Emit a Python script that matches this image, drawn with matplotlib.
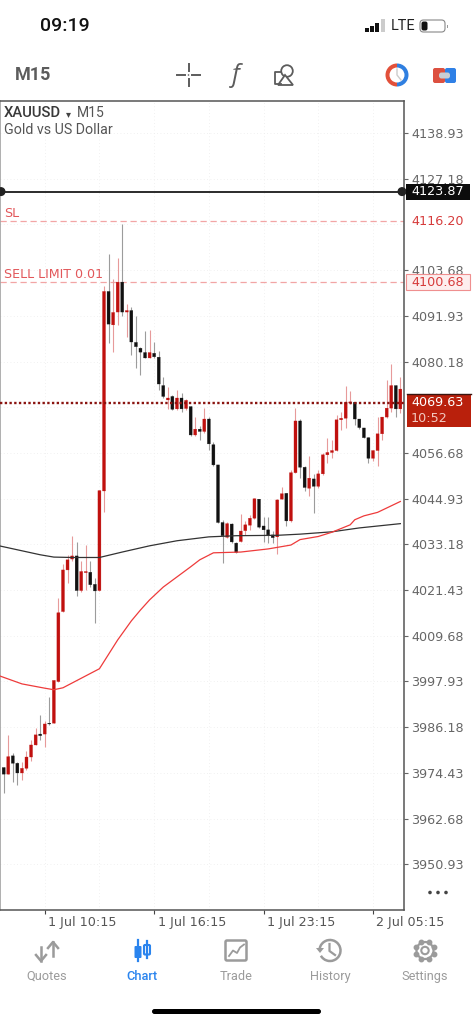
import numpy as np
import matplotlib
matplotlib.use("Agg")
import matplotlib.pyplot as plt
from matplotlib.patches import Rectangle, FancyBboxPatch, Circle, Wedge, Arc, Polygon
from matplotlib.transforms import ScaledTranslation

plt.rcParams["font.family"] = ["Roboto", "DejaVu Sans"]

# XAUUSD M15 candles, oldest first
opens = [3975.8, 3974.1, 3978.8, 3976.9, 3974.4, 3975.6, 3978.5, 3981.6, 3984.4, 3984.4, 3987.2,
         3987.2, 3997.9, 4015.9, 4026.6, 4029.4, 4030.2, 4021.3, 4025.9, 4026.0, 4022.9, 4021.3,
         4046.9, 4098.2, 4089.6, 4092.9, 4100.6, 4092.9, 4093.3, 4085.1, 4083.6, 4082.5, 4081.1,
         4082.3, 4081.3, 4074.0, 4070.3, 4071.2, 4068.0, 4070.8, 4068.1, 4068.6, 4061.3, 4062.8,
         4062.2, 4065.4, 4058.8, 4053.6, 4038.8, 4035.0, 4038.4, 4033.5, 4033.9, 4036.7, 4038.1,
         4039.9, 4044.8, 4037.9, 4036.9, 4035.6, 4035.1, 4044.8, 4046.3, 4039.2, 4051.6, 4064.9,
         4053.0, 4047.6, 4050.0, 4048.1, 4051.3, 4056.2, 4056.8, 4057.3, 4065.2, 4065.6, 4069.5,
         4069.7, 4065.4, 4063.1, 4060.6, 4055.3, 4057.3, 4061.6, 4065.9, 4068.2, 4074.0, 4068.0]
highs = [3975.9, 3984.2, 3979.6, 3977.3, 3977.3, 3980.1, 3982.9, 3986.0, 3989.3, 3987.8, 3994.0,
         3998.3, 4019.4, 4028.2, 4030.5, 4035.2, 4033.8, 4028.8, 4032.9, 4028.8, 4024.6, 4047.2,
         4099.5, 4107.9, 4101.4, 4106.8, 4115.6, 4095.0, 4094.3, 4092.0, 4084.0, 4087.9, 4088.3,
         4085.1, 4082.9, 4076.3, 4073.7, 4071.6, 4072.9, 4072.2, 4070.6, 4068.8, 4065.9, 4063.6,
         4068.2, 4066.0, 4059.4, 4053.6, 4039.5, 4039.0, 4038.7, 4033.9, 4041.0, 4039.3, 4040.8,
         4045.2, 4044.9, 4040.3, 4040.3, 4036.5, 4044.9, 4048.0, 4046.4, 4052.3, 4068.2, 4065.4,
         4053.2, 4055.9, 4051.3, 4052.3, 4056.6, 4060.6, 4060.0, 4066.5, 4067.3, 4074.0, 4072.7,
         4069.9, 4065.5, 4063.2, 4060.8, 4057.5, 4066.0, 4066.0, 4075.4, 4079.5, 4074.2, 4076.3]
lows = [3969.2, 3974.1, 3972.2, 3971.3, 3972.6, 3975.2, 3977.6, 3981.6, 3982.9, 3981.2, 3986.8,
        3987.2, 3997.9, 4015.8, 4023.3, 4028.8, 4019.8, 4021.0, 4021.5, 4022.3, 4013.0, 4021.2,
        4041.6, 4084.9, 4082.7, 4089.6, 4091.9, 4086.4, 4081.9, 4078.6, 4076.7, 4081.0, 4081.0,
        4081.1, 4072.9, 4070.8, 4068.0, 4067.7, 4067.8, 4067.3, 4067.8, 4061.1, 4061.1, 4060.0,
        4061.9, 4057.5, 4053.2, 4038.6, 4028.5, 4034.8, 4033.5, 4030.9, 4033.7, 4035.6, 4036.9,
        4039.7, 4037.3, 4033.9, 4033.5, 4033.6, 4030.7, 4044.8, 4038.0, 4039.0, 4051.5, 4050.2,
        4046.8, 4045.5, 4041.2, 4047.7, 4051.0, 4054.1, 4055.4, 4057.2, 4062.6, 4063.1, 4069.3,
        4063.9, 4062.9, 4060.4, 4054.2, 4054.5, 4053.2, 4060.0, 4065.7, 4067.1, 4065.9, 4066.9]
closes = [3974.1, 3978.6, 3976.9, 3974.4, 3975.6, 3978.5, 3981.6, 3984.2, 3984.0, 3987.0, 3987.0,
          3998.2, 4015.6, 4026.6, 4029.2, 4030.2, 4021.3, 4026.2, 4026.2, 4022.8, 4021.2, 4047.0,
          4098.2, 4089.8, 4092.8, 4100.6, 4092.9, 4093.3, 4085.2, 4084.0, 4082.6, 4081.1, 4082.5,
          4081.4, 4074.4, 4071.2, 4070.8, 4067.9, 4070.8, 4068.0, 4070.2, 4061.3, 4062.8, 4062.2,
          4065.4, 4059.0, 4053.6, 4038.8, 4035.4, 4038.5, 4033.8, 4031.1, 4036.6, 4038.2, 4039.9,
          4044.9, 4037.6, 4036.9, 4035.6, 4034.9, 4044.6, 4046.2, 4039.2, 4051.6, 4064.9, 4053.0,
          4047.8, 4050.2, 4048.1, 4051.3, 4056.2, 4056.8, 4057.3, 4065.2, 4065.6, 4069.7, 4069.8,
          4065.4, 4063.2, 4060.6, 4055.3, 4057.3, 4061.6, 4065.9, 4068.2, 4074.0, 4068.0, 4073.1]

# moving averages, by bar number
ma_red_bars = [-1, 4, 9, 11, 13, 21, 25, 28, 30, 32, 35, 38, 41, 43, 46, 52, 58, 60, 63, 65, 69, 72, 76, 77, 79, 82, 87]
ma_red = [3999.4, 3997.3, 3996.2, 3995.8, 3996.3, 4001.2, 4008.6, 4013.5, 4016.3, 4018.9, 4022.2, 4024.8, 4027.4,
          4029.2, 4031.0, 4031.2, 4032.0, 4032.4, 4033.0, 4034.4, 4035.2, 4036.3, 4038.2, 4039.5, 4040.5, 4041.4, 4044.2]
ma_black_bars = [-1, 8, 11, 15, 21, 26, 32, 38, 45, 51, 60, 65, 72, 78, 87]
ma_black = [4032.8, 4030.5, 4029.9, 4029.8, 4029.8, 4031.2, 4032.8, 4034.1, 4035.1, 4035.4, 4035.5,
            4035.8, 4036.4, 4037.4, 4038.5]

# price and time scales
price_ticks = [4138.93, 4127.18, 4103.68, 4091.93, 4080.18, 4056.68, 4044.93, 4033.18, 4021.43,
               4009.68, 3997.93, 3986.18, 3974.43, 3962.68, 3950.93]
grid_prices = [4138.93, 4127.18, 4115.43, 4103.68, 4091.93, 4080.18, 4068.43, 4056.68, 4044.93, 4033.18,
               4021.43, 4009.68, 3997.93, 3986.18, 3974.43, 3962.68, 3950.93]
time_bars = [9, 33, 57, 81]
time_labels = ["1 Jul 10:15", "1 Jul 16:15", "1 Jul 23:15", "2 Jul 05:15"]
grid_bars = [9, 21, 33, 45, 57, 69, 81]

# order levels
bid_level = 4123.87
sl_level = 4116.20
limit_level = 4100.68
last_price = 4069.63
countdown = "10:52"

RED = "#c0100e"
BLACK = "#111111"
SCALE_FONT = "DejaVu Sans"
W, H = 473, 1024
L, R, T, B = 0, 404, 101, 910
PRICE_TOP, PRICE_BOTTOM = 4147.16, 3939.17


def px(size):
    # pixel size to points at 100 dpi
    return size * 0.72


def py(price):
    return T + (PRICE_TOP - price) / (PRICE_TOP - PRICE_BOTTOM) * (B - T)


fig = plt.figure(figsize=(W / 100, H / 100), dpi=100, facecolor="white")
ax = fig.add_axes([L / W, 1 - B / H, (R - L) / W, (B - T) / H])
ax.set_xlim(-0.81, 87.8)
ax.set_ylim(PRICE_BOTTOM, PRICE_TOP)
ax.yaxis.tick_right()

# faint dotted grid
for g in grid_prices:
    ax.axhline(g, color="#ececec", lw=0.6, ls=(0, (1, 3)), zorder=0)
for g in grid_bars:
    ax.axvline(g, color="#ececec", lw=0.6, ls=(0, (1, 3)), zorder=0)

# candles
bars = np.arange(len(opens))
o = np.array(opens)
c = np.array(closes)
up = c >= o
ax.vlines(bars[up], np.array(lows)[up], np.array(highs)[up], color="#e79a9a", lw=0.8, zorder=2)
ax.vlines(bars[~up], np.array(lows)[~up], np.array(highs)[~up], color="#9c9c9c", lw=0.8, zorder=2)
ax.bar(bars[up], (c - o)[up], bottom=o[up], width=0.66, color=RED, edgecolor=RED, lw=0.2, zorder=3, snap=False)
ax.bar(bars[~up], (o - c)[~up], bottom=c[~up], width=0.66, color=BLACK, edgecolor=BLACK, lw=0.2, zorder=3, snap=False)

# moving averages
ax.plot(ma_black_bars, ma_black, color="#333333", lw=0.9, zorder=4)
ax.plot(ma_red_bars, ma_red, color="#ee3b3b", lw=0.9, zorder=4)

# levels
ax.axhline(bid_level, color="#1a1a1a", lw=1.3, zorder=5)
ax.axhline(sl_level, color="#f2a5a5", lw=0.9, ls=(0, (5, 3)), zorder=1)
ax.axhline(limit_level, color="#f2a5a5", lw=0.9, ls=(0, (5, 3)), zorder=1)
ax.axhline(last_price, color="#8a1410", lw=1.7, ls=(0, (1, 1)), zorder=5)

# axes furniture
for side, spine in ax.spines.items():
    spine.set_color("#555555")
    spine.set_linewidth(1.1)
ax.spines["left"].set_color("#9a9a9a")
ax.set_yticks(price_ticks)
ax.set_yticklabels([f"{p:.2f}" for p in price_ticks], fontsize=px(12.8), color="#666666", family=SCALE_FONT)
ax.tick_params(axis="y", length=3, width=0.8, color="#666666", pad=2)
ax.set_xticks(time_bars)
ax.set_xticklabels(time_labels, fontsize=px(12.7), color="#555555", ha="left", family=SCALE_FONT)
ax.tick_params(axis="x", length=3, width=0.8, color="#444444", pad=1.5, direction="out")
# time labels sit just to the right of their ticks
shift = ScaledTranslation(3.5 / 100, 0, fig.dpi_scale_trans)
for label in ax.get_xticklabels():
    label.set_transform(label.get_transform() + shift)

# overlay in pixel coordinates for the app chrome and price tags
ui = fig.add_axes([0, 0, 1, 1], facecolor="none", zorder=10)
ui.set_xlim(0, W)
ui.set_ylim(H, 0)
ui.axis("off")

ui.add_patch(Circle((1, py(bid_level)), 3.8, fc="#222222", ec="#222222", clip_on=False))
ui.add_patch(Circle((402, py(bid_level)), 3.8, fc="#222222", ec="#222222"))

# symbol header and order labels
ui.text(4, 113, "XAUUSD", fontsize=px(14.8), color="#3a3a3a", va="center", fontweight="medium")
ui.text(66, 114, "▾", fontsize=px(10), color="#444444", va="center", ha="left", family="DejaVu Sans")
ui.text(77, 113, "M15", fontsize=px(14), color="#555555", va="center")
ui.text(4, 130, "Gold vs US Dollar", fontsize=px(14.2), color="#555555", va="center")
ui.text(4, 213.5, "SL", fontsize=px(12.6), color="#e2575a", va="center", family=SCALE_FONT)
ui.text(4, 274.5, "SELL LIMIT 0.01", fontsize=px(12.6), color="#e2575a", va="center", family=SCALE_FONT)

# price tags on the scale
TX = 411
ui.add_patch(Rectangle((406, py(bid_level) - 8), 64, 16, fc="#0c0c0c", ec="none"))
ui.text(TX, py(bid_level), f"{bid_level:.2f}", fontsize=px(12.8), color="white", va="center", family=SCALE_FONT)
ui.add_patch(Rectangle((406, py(sl_level) - 8), 64, 16, fc="white", ec="none"))
ui.text(TX, py(sl_level), f"{sl_level:.2f}", fontsize=px(12.8), color="#d63b3b", va="center", family=SCALE_FONT)
ui.add_patch(Rectangle((406, py(limit_level) - 7.5), 64, 16, fc="#fdeeee", ec="#ef8f8f", lw=0.8))
ui.text(TX, py(limit_level) + 0.5, f"{limit_level:.2f}", fontsize=px(12.8), color="#d63b3b", va="center", family=SCALE_FONT)
ui.add_patch(Rectangle((407, 393.5), 63.5, 33.5, fc="#b9200c", ec="none"))
ui.plot([407, 470.5], [393.5, 393.5], color="#3a1510", lw=1)
ui.text(TX, 403, f"{last_price:.2f}", fontsize=px(12.8), color="white", va="center", family=SCALE_FONT)
ui.text(TX, 418, countdown, fontsize=px(12.8), color="#f2c9c0", va="center", family=SCALE_FONT)

# more-menu dots
for x in (430, 438, 446):
    ui.add_patch(Circle((x, 892.5), 1.8, fc="#444444", ec="none"))

# status bar
ui.text(65, 26, "09:19", fontsize=px(19.5), color="#111111", ha="center", va="center", fontweight="medium")
for x, h_bar, col in [(365, 4, "#111"), (370, 6, "#111"), (375, 9, "#111"), (380.5, 13, "#ccc")]:
    ui.add_patch(Rectangle((x, 32 - h_bar), 4, h_bar, fc=col, ec="none"))
ui.text(391, 26, "LTE", fontsize=px(14.5), color="#222222", va="center")
ui.add_patch(FancyBboxPatch((420, 20), 25, 12, boxstyle="round,pad=0,rounding_size=3.5", fc="white", ec="#888888", lw=0.8))
ui.add_patch(FancyBboxPatch((421.5, 21.5), 6, 9, boxstyle="round,pad=0,rounding_size=2", fc="#111111", ec="none"))
ui.add_patch(Rectangle((446.5, 24.5), 1, 3, fc="#999999", ec="none"))

# toolbar
GRAY = "#5c5c5c"
ui.text(15, 75, "M15", fontsize=px(18), color=GRAY, va="center", fontweight="bold")
for seg in [([177, 185], [75, 75]), ([192, 200], [75, 75]), ([188.5, 188.5], [64, 71]), ([188.5, 188.5], [79, 86])]:
    ui.plot(seg[0], seg[1], color=GRAY, lw=1.4)
ui.add_patch(Circle((188.5, 75), 0.8, fc=GRAY, ec="none"))
ui.text(236, 75, "f", fontsize=px(25), color=GRAY, ha="center", va="center", style="italic", family="Open Sans")
ui.plot([281, 274.5, 274.5, 281], [72, 72, 84, 84], color=GRAY, lw=1.3)
ui.add_patch(Circle((287, 71), 5.8, fc="none", ec=GRAY, lw=1.3))
ui.add_patch(Polygon([(285, 75), (278, 85), (293, 85)], closed=True, fc="white", ec=GRAY, lw=1.3))
ui.add_patch(Wedge((397, 75), 11.5, 90, 270, width=4, fc="#e2503a", ec="none"))
ui.add_patch(Wedge((397, 75), 11.5, -90, 90, width=4, fc="#2f7fe0", ec="none"))
ui.plot([397, 397, 401], [69, 75, 80], color="#cccccc", lw=1)
ui.add_patch(FancyBboxPatch((433, 68), 12, 15, boxstyle="round,pad=0,rounding_size=2", fc="#dc5040", ec="none"))
ui.add_patch(FancyBboxPatch((445, 68), 11, 15, boxstyle="round,pad=0,rounding_size=2", fc="#2f80e6", ec="none"))
ui.add_patch(FancyBboxPatch((439, 72.5), 11, 6, boxstyle="round,pad=0,rounding_size=2.5", fc="#c9ced4", ec="none"))

# tab bar
TAB = "#9b9b9b"
BLUE = "#2a84ee"
ui.text(47, 976.5, "Quotes", fontsize=px(12.8), color=TAB, ha="center", va="center")
ui.text(142, 976.5, "Chart", fontsize=px(12.8), color=BLUE, ha="center", va="center", fontweight="medium")
ui.text(236, 976.5, "Trade", fontsize=px(12.8), color=TAB, ha="center", va="center")
ui.text(330, 976.5, "History", fontsize=px(12.8), color=TAB, ha="center", va="center")
ui.text(425, 976.5, "Settings", fontsize=px(12.8), color=TAB, ha="center", va="center")

# quotes arrows
ui.plot([41, 41], [947, 961], color=TAB, lw=1.8)
ui.plot([36, 41, 46], [955, 961, 955], color=TAB, lw=1.8)
ui.plot([53, 53], [956, 942], color=TAB, lw=1.8)
ui.plot([48, 53, 58], [948, 942, 948], color=TAB, lw=1.8)

# chart candles
ui.plot([138, 138], [940, 961], color=BLUE, lw=1.6)
ui.add_patch(FancyBboxPatch((134.5, 946), 7, 12, boxstyle="round,pad=0,rounding_size=1", fc=BLUE, ec="none"))
ui.plot([147, 147], [941, 958], color=BLUE, lw=1.6)
ui.add_patch(FancyBboxPatch((144, 945), 6, 9.5, boxstyle="round,pad=0,rounding_size=1", fc="white", ec=BLUE, lw=1.5))

# trade box
ui.add_patch(FancyBboxPatch((225.5, 940.5), 21, 20, boxstyle="round,pad=0,rounding_size=1.5", fc="white", ec=TAB, lw=1.8))
ui.plot([229, 233, 237, 240, 244], [956, 950.5, 953, 947.5, 944.5], color=TAB, lw=1.3)

# history clock
ui.add_patch(Arc((330, 950.5), 21, 21, theta1=-180, theta2=150, ec=TAB, lw=1.8))
ui.add_patch(Polygon([(316, 948), (324, 948), (320, 953)], closed=True, fc=TAB, ec="none"))
ui.plot([329.5, 329.5, 335], [944, 951, 955], color=TAB, lw=1.6)

# settings gear
for ang in np.arange(0, 360, 45):
    tooth_x = 425 + 9.5 * np.cos(np.radians(ang + 22.5))
    tooth_y = 950.5 + 9.5 * np.sin(np.radians(ang + 22.5))
    ui.plot([tooth_x], [tooth_y], marker="o", ms=3.2, color=TAB)
ui.add_patch(Circle((425, 950.5), 8.5, fc="white", ec=TAB, lw=1.6))
ui.add_patch(Circle((425, 950.5), 3.7, fc="white", ec=TAB, lw=1.5))

# home indicator
ui.add_patch(FancyBboxPatch((152, 1009), 169, 5, boxstyle="round,pad=0,rounding_size=2.5", fc="black", ec="none"))

fig.savefig("out.png", dpi=100)
